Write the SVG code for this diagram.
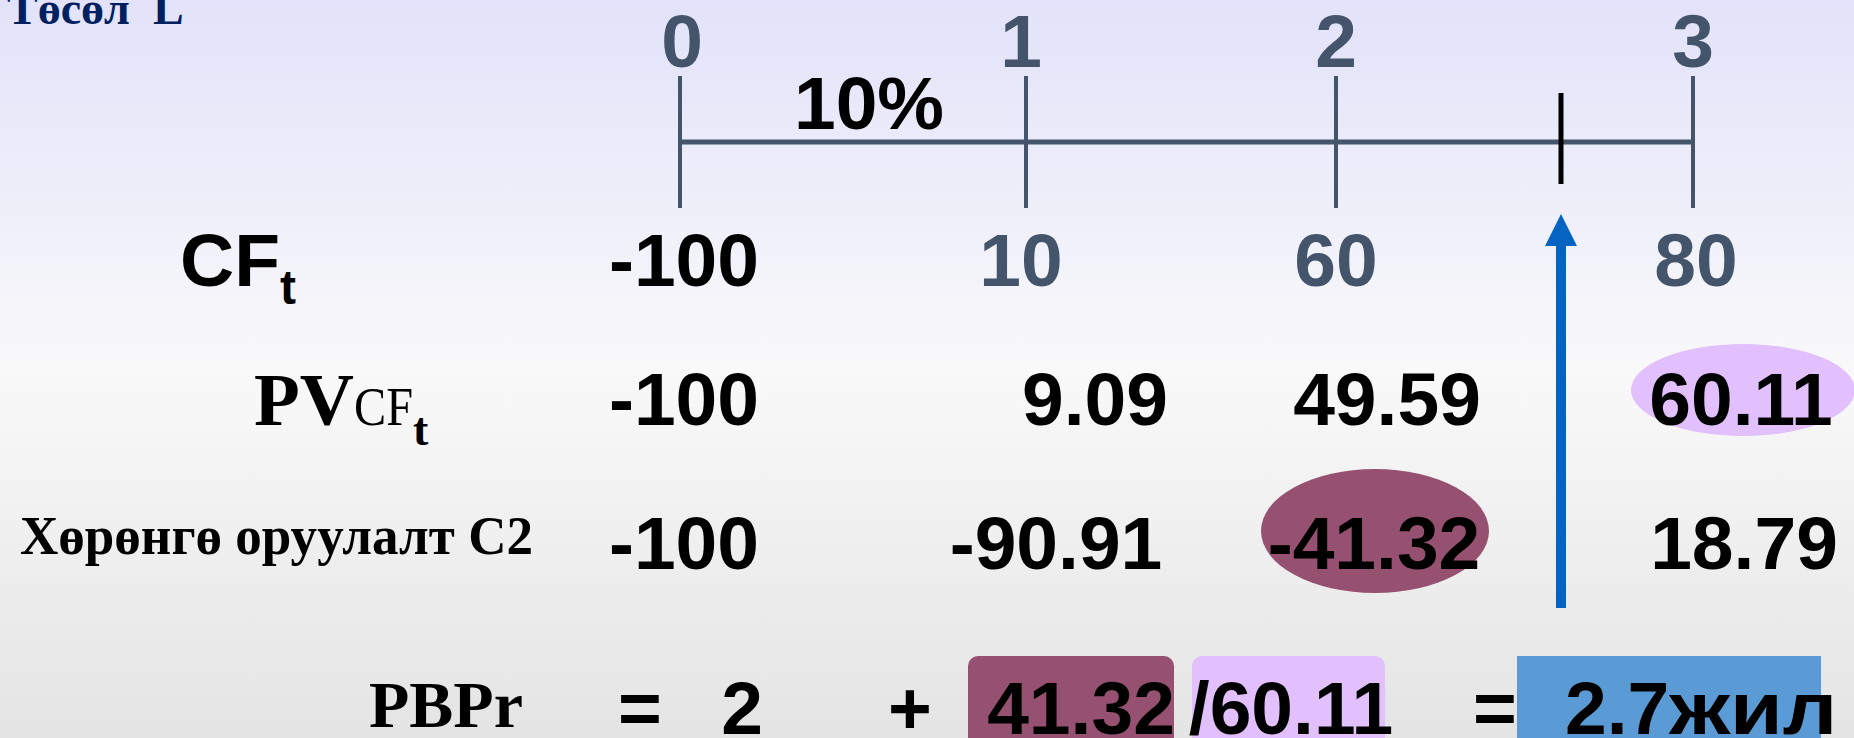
<svg xmlns="http://www.w3.org/2000/svg" width="1854" height="738" viewBox="0 0 1854 738">
<defs>
<linearGradient id="bg" x1="0" y1="0" x2="0" y2="1">
<stop offset="0" stop-color="#E2E2FA"/>
<stop offset="0.5" stop-color="#F9F9FA"/>
<stop offset="1" stop-color="#E4E4E4"/>
</linearGradient>
<marker id="ah" markerWidth="40" markerHeight="40" refX="0" refY="0" orient="auto" markerUnits="userSpaceOnUse" overflow="visible">
<path d="M0,-16 L32,0 L0,16 Z" fill="#0563C1"/>
</marker>
<style>
.n{font-family:"Liberation Sans",Arial,sans-serif;font-weight:bold;font-size:75px;fill:#000;text-anchor:middle}
.s{fill:#44546A}
.tk{stroke:#44546A;stroke-width:4}
.sr{font-family:"Liberation Serif","Times New Roman",serif;font-weight:bold;fill:#000}
</style>
</defs>
<rect width="1854" height="738" fill="url(#bg)"/>

<g id="title">
<text x="7" y="24" class="sr" font-size="46" style="fill:#002060;white-space:pre">Төсөл  L</text>
</g>

<g id="timeline">
<line x1="680" y1="142" x2="1693" y2="142" stroke="#44546A" stroke-width="5"/>
<line class="tk" x1="680" y1="76" x2="680" y2="208"/>
<line class="tk" x1="1026" y1="76" x2="1026" y2="208"/>
<line class="tk" x1="1336" y1="76" x2="1336" y2="208"/>
<line class="tk" x1="1693" y1="76" x2="1693" y2="208"/>
<line x1="1561" y1="93" x2="1561" y2="184" stroke="#000" stroke-width="5"/>
<text class="n s" x="682" y="67">0</text>
<text class="n s" x="1021" y="67">1</text>
<text class="n s" x="1336" y="67">2</text>
<text class="n s" x="1693" y="67">3</text>
<text class="n" x="869" y="129" font-size="74">10%</text>
</g>

<g id="row-cf">
<text x="180" y="286" class="n" style="text-anchor:start">CF<tspan font-size="48" dy="18">t</tspan></text>
<text class="n" x="684" y="286">-100</text>
<text class="n s" x="1021" y="286">10</text>
<text class="n s" x="1336" y="286">60</text>
<text class="n s" x="1696" y="286">80</text>
</g>

<g id="row-pv">
<text x="254" y="425" class="sr" font-size="75">PV<tspan font-weight="normal" font-size="54" textLength="59" lengthAdjust="spacingAndGlyphs">CF</tspan><tspan font-size="46" dy="20">t</tspan></text>
<ellipse cx="1743" cy="390" rx="112" ry="46" fill="#E2BFFD"/>
<text class="n" x="684" y="425">-100</text>
<text class="n" x="1095" y="425">9.09</text>
<text class="n" x="1387" y="425">49.59</text>
<text class="n" x="1741" y="425">60.11</text>
</g>

<g id="row-invest">
<text x="20" y="554" class="sr" font-size="54" textLength="513" lengthAdjust="spacingAndGlyphs">Хөрөнгө оруулалт С2</text>
<ellipse cx="1375" cy="531" rx="114" ry="62" fill="#965070"/>
<text class="n" x="684" y="569">-100</text>
<text class="n" x="1056" y="569">-90.91</text>
<text class="n" x="1374" y="569">-41.32</text>
<text class="n" x="1744" y="569">18.79</text>
</g>

<g id="connectors">
<line x1="1561" y1="608" x2="1561" y2="246" stroke="#0563C1" stroke-width="10" marker-end="url(#ah)"/>
</g>

<g id="formula">
<rect x="968" y="656" width="206" height="110" rx="10" fill="#965070"/>
<rect x="1192" y="656" width="193" height="110" rx="10" fill="#E2BFFD"/>
<rect x="1517" y="656" width="304" height="110" fill="#5B9BD5"/>
<text x="369" y="727" class="sr" font-size="66">PBPr</text>
<text class="n" x="640" y="734">=</text>
<text class="n" x="742" y="734">2</text>
<text class="n" x="910" y="734">+</text>
<text class="n" x="1081" y="734">41.32</text>
<text class="n" x="1291" y="734">/60.11</text>
<text class="n" x="1495" y="734">=</text>
<text class="n" x="1565" y="734" font-size="92" style="text-anchor:start">2.7<tspan textLength="168" lengthAdjust="spacingAndGlyphs">жил</tspan></text>
</g>
</svg>
